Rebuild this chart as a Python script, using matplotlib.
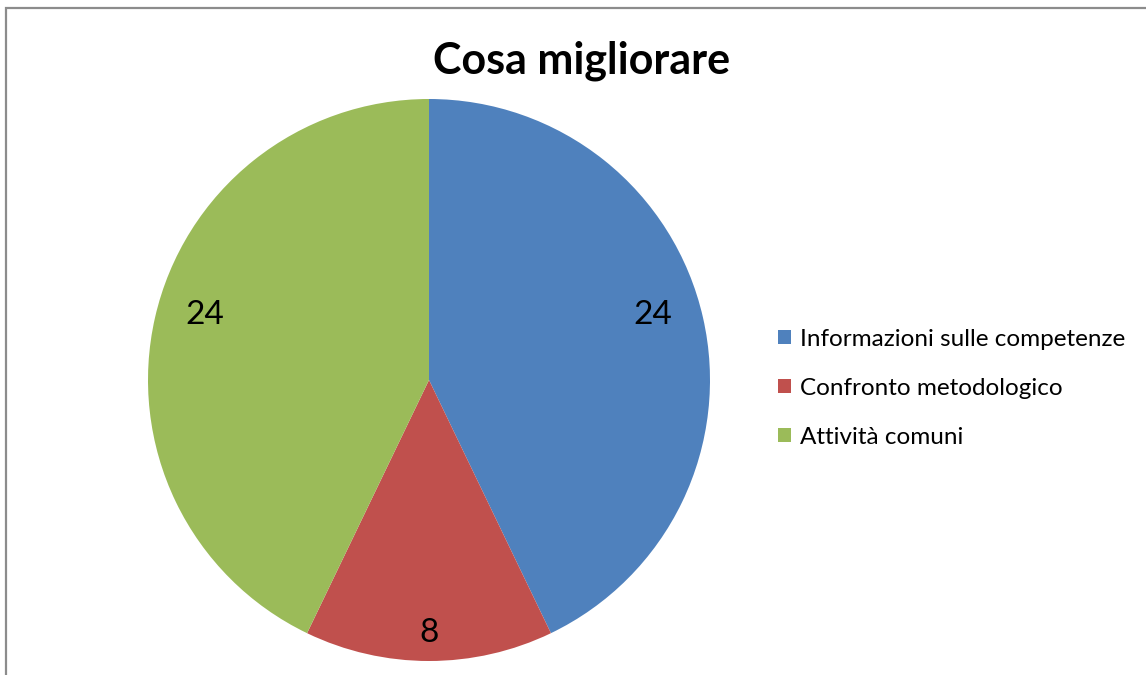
import numpy as np
import matplotlib.pyplot as plt
from matplotlib.patches import Rectangle

# dati
categorie = ["Informazioni sulle competenze", "Confronto metodologico", "Attività comuni"]
valori = [24, 8, 24]
colori = ["#4F81BD", "#C0504D", "#9BBB59"]
raggio_etichette = [0.83, 0.90, 0.83]
scarto_angolo = [3.3, 0, -3.3]   # gradi, come le etichette "best fit" di Excel

plt.rcParams['font.family'] = ['Lato', 'DejaVu Sans']

fig = plt.figure(figsize=(11.46, 6.75), dpi=100)

# bordo grigio del grafico
fig.patches.append(Rectangle((6 / 1146, -0.1), 1.2, 1.1 - 8 / 675,
                             transform=fig.transFigure, fill=False,
                             edgecolor="#8c8c8c", linewidth=1.6))

cx, cy, r = 429, 380, 281
ax = fig.add_axes([(cx - r) / 1146, (675 - cy - r) / 675, 2 * r / 1146, 2 * r / 675])
wedges, _ = ax.pie(valori, colors=colori, startangle=90, counterclock=False,
                   wedgeprops=dict(linewidth=0))
ax.set_xlim(-1, 1)
ax.set_ylim(-1, 1)
ax.set_aspect("equal")

for w, v, rr, da in zip(wedges, valori, raggio_etichette, scarto_angolo):
    ang = np.deg2rad((w.theta1 + w.theta2) / 2 + da)
    ax.text(rr * np.cos(ang), rr * np.sin(ang), str(v), ha="center", va="center",
            fontsize=24, color="black")

fig.text(582 / 1146, 1 - 61 / 675, "Cosa migliorare", ha="center", va="center",
         fontsize=31, fontweight="bold")

leg = fig.legend(wedges, categorie, loc="upper left",
                 bbox_to_anchor=(768 / 1146, 1 - 319 / 675),
                 frameon=False, fontsize=17.5, handlelength=0.55, handleheight=0.55,
                 handletextpad=0.35, labelspacing=1.15, borderaxespad=0)

fig.savefig("out.png", dpi=100)
